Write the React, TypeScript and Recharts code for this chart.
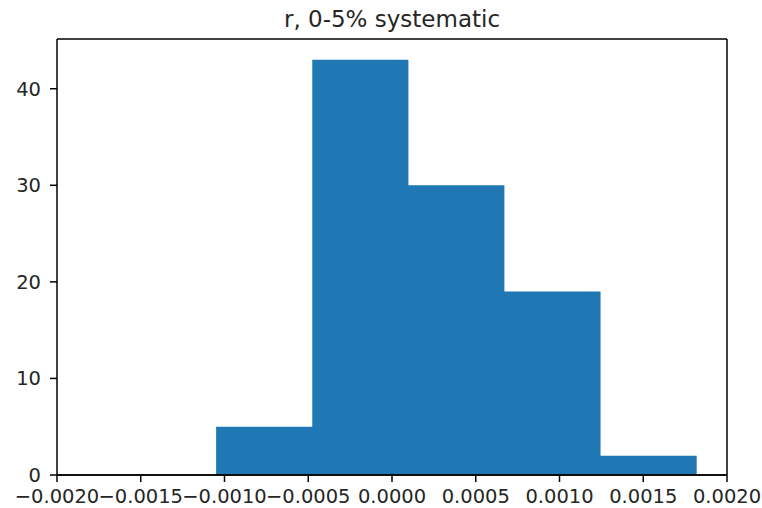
import React from 'react';
import { AreaChart, Area, XAxis, YAxis, ReferenceLine } from 'recharts';

// histogram of r, 0-5% systematic
const binEdges = [-0.00105, -0.000476, 0.000098, 0.000671, 0.001245, 0.001819];
const binCounts = [5, 43, 30, 19, 2];
const xTicks = [-0.002, -0.0015, -0.001, -0.0005, 0, 0.0005, 0.001, 0.0015, 0.002];
const yTicks = [0, 10, 20, 30, 40];
const yMax = 45.15;

// step data: each edge carries the count of the bin to its right
const chartData = binEdges.map((edge, i) => ({
  x: edge,
  count: binCounts[Math.min(i, binCounts.length - 1)],
}));

const formatX = (v: number) => {
  const s = Math.abs(v).toFixed(4);
  return v < -1e-12 ? '\u2212' + s : s;
};

const font = 'DejaVu Sans';
const ink = '#262626';

export default function App() {
  return (
    <div style={{ position: 'absolute', left: 0, top: 0, width: 762, height: 508, background: '#fff' }}>
      <div
        style={{
          position: 'absolute',
          left: 57,
          width: 670,
          top: 8,
          textAlign: 'center',
          fontFamily: font,
          fontSize: 23,
          lineHeight: 1,
          color: ink,
        }}
      >
        r, 0-5% systematic
      </div>
      <AreaChart width={762} height={508} data={chartData} margin={{ top: 39, right: 35, left: 7, bottom: 0 }}>
        <XAxis
          type="number"
          dataKey="x"
          domain={[-0.002, 0.002]}
          ticks={xTicks}
          tickFormatter={formatX}
          allowDataOverflow
          height={33}
          tickSize={7}
          tickMargin={7}
          interval={0}
          axisLine={{ stroke: '#000', strokeWidth: 1.5 }}
          tickLine={{ stroke: '#000', strokeWidth: 1.5 }}
          tick={{ fill: ink, fontFamily: font, fontSize: 19.5 }}
        />
        <YAxis
          type="number"
          domain={[0, yMax]}
          ticks={yTicks}
          allowDataOverflow
          width={50}
          tickSize={7}
          tickMargin={9}
          interval={0}
          axisLine={{ stroke: '#000', strokeWidth: 1.5 }}
          tickLine={{ stroke: '#000', strokeWidth: 1.5 }}
          tick={{ fill: ink, fontFamily: font, fontSize: 19.5 }}
        />
        <Area
          type="stepAfter"
          dataKey="count"
          stroke="none"
          fill="#1f77b4"
          fillOpacity={1}
          isAnimationActive={false}
          dot={false}
          activeDot={false}
        />
        <ReferenceLine y={yMax} stroke="#000" strokeWidth={1.5} />
        <ReferenceLine x={0.002} stroke="#000" strokeWidth={1.5} />
        <ReferenceLine y={0} stroke="#000" strokeWidth={1.5} />
      </AreaChart>
    </div>
  );
}
